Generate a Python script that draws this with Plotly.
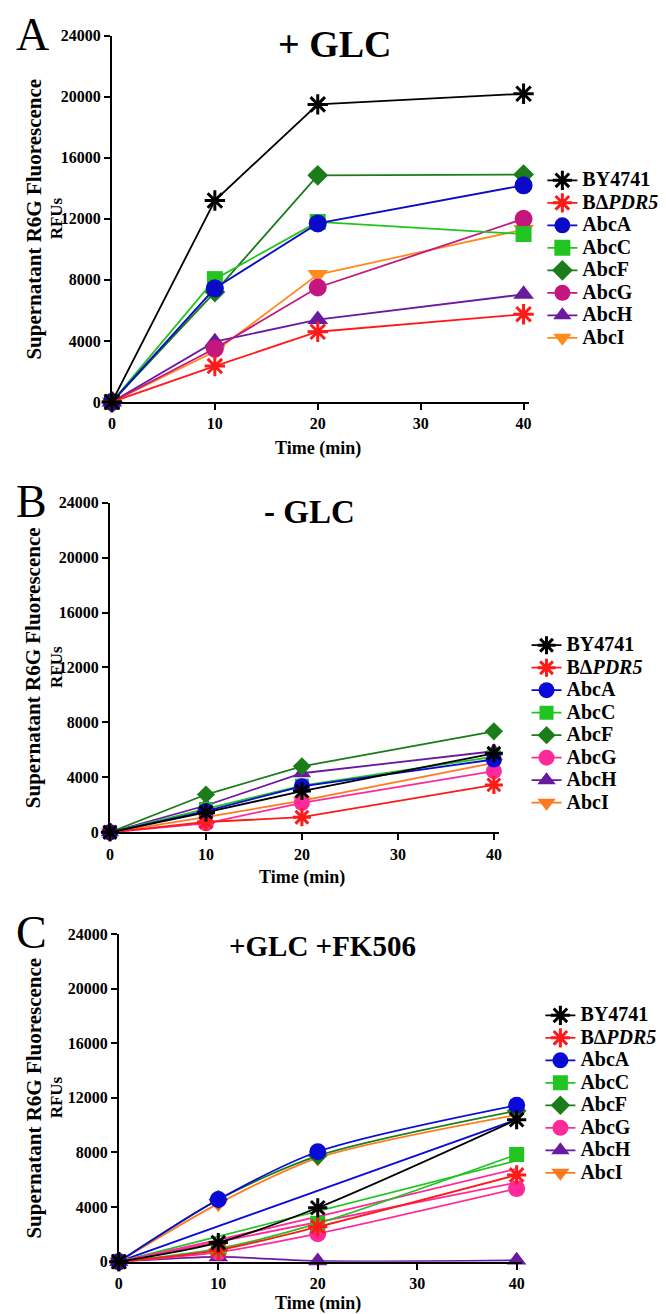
import plotly.graph_objects as go

W, H = 666, 1314
FONT = "Liberation Serif, Times New Roman, serif"

time_min = [0, 10, 20, 40]
strain_names = ["BY4741", "BΔ<i>PDR5</i>", "AbcA", "AbcC", "AbcF", "AbcG", "AbcH", "AbcI"]
symbols = ["asterisk-open", "asterisk-open", "circle", "square", "diamond", "circle", "triangle-up", "triangle-down"]
y_ticks = [0, 4000, 8000, 12000, 16000, 20000, 24000]
x_ticks = [0, 10, 20, 30, 40]

# Panel A: + GLC
glc_by4741 = [0, 13200, 19500, 20200]
glc_pdr5 = [0, 2350, 4600, 5750]
glc_abca = [0, 7450, 11700, 14200]
glc_abcc = [0, 8050, 11800, 11000]
glc_abcf = [0, 7200, 14850, 14900]
glc_abcg = [0, 3500, 7500, 12000]
glc_abch = [0, 3950, 5400, 7050]
glc_abci = [0, 3300, 8350, 11300]

# Panel B: - GLC
noglc_by4741 = [0, 1450, 3000, 5750]
noglc_pdr5 = [0, 750, 1100, 3450]
noglc_abca = [0, 1550, 3350, 5300]
noglc_abcc = [0, 1700, 3400, 5500]
noglc_abcf = [0, 2750, 4800, 7350]
noglc_abcg = [0, 650, 2150, 4450]
noglc_abch = [0, 1950, 4300, 5900]
noglc_abci = [0, 1100, 2300, 5050]

# Panel C: +GLC +FK506
fk_by4741 = [0, 1400, 3950, 10400]
fk_pdr5 = [0, 850, 2550, 6350]
fk_abca = [0, 4550, 8050, 11450]
fk_abcc = [0, 950, 2800, 7850]
fk_abcf = [0, 4550, 7750, 11050]
fk_abcg = [0, 700, 2050, 5350]
fk_abch = [0, 350, 50, 100]
fk_abci = [0, 4250, 7600, 10750]

# Panel C: extra unlabelled lines
fk_extra_blue_t = [0, 40]
fk_extra_blue = [0, 10400]
fk_extra_green = [0, 1850, 3700, 7400]
fk_extra_pink1 = [0, 1600, 3300, 6800]
fk_extra_pink2_t = [0, 20, 40]
fk_extra_pink2 = [0, 2900, 5800]

colors_a = ["#000000", "#ff1a1a", "#0a0ac8", "#22c422", "#1a7d1a", "#c4167c", "#6a1a9e", "#ff8a1e"]
colors_bc = ["#000000", "#ff1a1a", "#0a0ad8", "#22c422", "#1a7d1a", "#ff2a9a", "#6a1a9e", "#ff7a1e"]

panels = [
    dict(data=[glc_by4741, glc_pdr5, glc_abca, glc_abcc, glc_abcf, glc_abcg, glc_abch, glc_abci],
         colors=colors_a, x0=101, x40=517, ytop=20, ybot=391, shape="linear", msize=18,
         legend=(536, 150), letter="A", title="+ GLC", tx=267, ty=28, tsize=38, xt_y=438),
    dict(data=[noglc_by4741, noglc_pdr5, noglc_abca, noglc_abcc, noglc_abcf, noglc_abcg, noglc_abch, noglc_abci],
         colors=colors_bc, x0=99, x40=487, ytop=493, ybot=827, shape="linear", msize=16,
         legend=(520, 621), letter="B", title="- GLC", tx=253, ty=502, tsize=33, xt_y=873),
    dict(data=[fk_by4741, fk_pdr5, fk_abca, fk_abcc, fk_abcf, fk_abcg, fk_abch, fk_abci],
         colors=colors_bc, x0=108, x40=510, ytop=930, ybot=1262, shape="spline", msize=17,
         legend=(534, 996), letter="C", title="+GLC +FK506", tx=217, ty=942, tsize=29, xt_y=1304),
]

fig = go.Figure()
layout = dict(width=W, height=H, margin=dict(l=0, r=0, t=0, b=0),
              plot_bgcolor="white", paper_bgcolor="white", annotations=[])

for pi, p in enumerate(panels):
    sfx = "" if pi == 0 else str(pi + 1)
    xa, ya = "x" + sfx, "y" + sfx
    lg = "legend" + sfx
    xmax = 40.5
    xend = p["x0"] + (p["x40"] - p["x0"]) * xmax / 40
    layout["xaxis" + sfx] = dict(
        domain=[p["x0"] / W, xend / W], anchor=ya, range=[0, xmax], tickvals=x_ticks,
        ticks="outside", ticklen=6, tickwidth=2, tickcolor="black", showline=True,
        linewidth=2, linecolor="black", showgrid=False, zeroline=False,
        tickfont=dict(family=FONT, size=16, color="black", weight="bold"))
    layout["yaxis" + sfx] = dict(
        domain=[1 - p["ybot"] / H, 1 - p["ytop"] / H], anchor=xa, range=[0, 24000],
        tickvals=y_ticks, tickformat="d", ticks="outside", ticklen=6, tickwidth=2,
        tickcolor="black", showline=True, linewidth=2, linecolor="black", showgrid=False,
        zeroline=False, tickfont=dict(family=FONT, size=16, color="black", weight="bold"))
    lx, ly = p["legend"]
    layout[lg] = dict(x=lx / W, y=1 - ly / H, xanchor="left", yanchor="top",
                      font=dict(family=FONT, size=15, color="black", weight="bold"),
                      bgcolor="rgba(0,0,0,0)", tracegroupgap=0, traceorder="normal")

    if pi == 2:
        extras = [(fk_extra_blue_t, fk_extra_blue, colors_bc[2]),
                  (time_min, fk_extra_green, colors_bc[3]),
                  (time_min, fk_extra_pink1, colors_bc[5]),
                  (fk_extra_pink2_t, fk_extra_pink2, colors_bc[5])]
        for ex, ey, ec in extras:
            fig.add_trace(go.Scatter(x=ex, y=ey, mode="lines", xaxis=xa, yaxis=ya,
                                     line=dict(color=ec, width=1.8), showlegend=False,
                                     hoverinfo="skip", cliponaxis=False))

    for j in reversed(range(len(strain_names))):
        col = p["colors"][j]
        sym = symbols[j]
        star = sym.startswith("asterisk")
        size = p["msize"] - 1 if star else (p["msize"] - 2 if sym in ("diamond", "square") else p["msize"])
        marker = dict(symbol=sym, size=size, color=col,
                      line=dict(color=col, width=3 if star else 0))
        fig.add_trace(go.Scatter(
            x=time_min, y=p["data"][j], mode="lines+markers", xaxis=xa, yaxis=ya,
            name='<span style="font-size:20px">' + strain_names[j] + "</span>",
            legend=lg, legendrank=j + 1, marker=marker,
            line=dict(color=col, width=1.8, shape=p["shape"], smoothing=0.8),
            cliponaxis=False))

    ymid = (p["ytop"] + p["ybot"]) / 2
    xmid = (p["x0"] + p["x40"]) / 2
    ann = layout["annotations"]
    ann.append(dict(text=p["letter"], x=2 / W, y=1 - (p["ytop"] - 1) / H, xref="paper", yref="paper",
                    xanchor="left", yanchor="middle", showarrow=False,
                    font=dict(family=FONT, size=46, color="black")))
    ann.append(dict(text=p["title"], x=p["tx"] / W, y=1 - p["ty"] / H, xref="paper", yref="paper",
                    xanchor="left", yanchor="middle", showarrow=False,
                    font=dict(family=FONT, size=p["tsize"], color="black", weight="bold")))
    ann.append(dict(text="Supernatant R6G Fluorescence", x=22 / W, y=1 - ymid / H,
                    xref="paper", yref="paper", xanchor="center", yanchor="middle",
                    textangle=-90, showarrow=False,
                    font=dict(family=FONT, size=21, color="black", weight="bold")))
    ann.append(dict(text="RFUs", x=45 / W, y=1 - ymid / H,
                    xref="paper", yref="paper", xanchor="center", yanchor="middle",
                    textangle=-90, showarrow=False,
                    font=dict(family=FONT, size=17, color="black", weight="bold")))
    ann.append(dict(text="Time (min)", x=xmid / W, y=1 - p["xt_y"] / H,
                    xref="paper", yref="paper", xanchor="center", yanchor="middle",
                    showarrow=False,
                    font=dict(family=FONT, size=18, color="black", weight="bold")))

fig.update_layout(**layout)
fig.write_html("out.html")
